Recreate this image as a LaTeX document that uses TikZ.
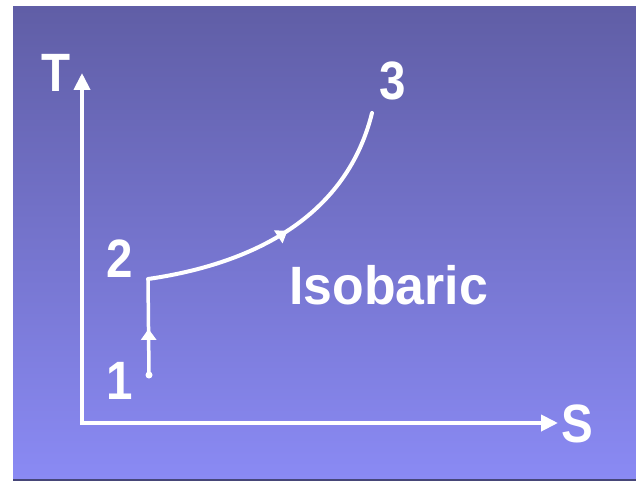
\documentclass[tikz,border=0pt]{standalone}
\usepackage{fontspec}
\setmainfont{Liberation Sans}
\usetikzlibrary{arrows.meta,decorations.markings}
\definecolor{bgtop}{RGB}{96,94,166}
\definecolor{bgmid}{RGB}{110,112,210}
\definecolor{bgbot}{RGB}{138,138,244}
\definecolor{edgeline}{RGB}{70,70,120}
\begin{document}
\begin{tikzpicture}[x=1pt,y=-1pt,
  lbl/.style={text=white,font=\fontsize{54}{60}\selectfont\bfseries,inner sep=0pt,xscale=0.88},
  midarrow/.style={decoration={markings,mark=at position #1 with {\arrow{Triangle[length=11pt,width=15pt]}}},postaction=decorate},
  proc/.style={white,line width=3.5pt}]
  \useasboundingbox (0,0) rectangle (636,484);
  \fill[white] (0,0) rectangle (636,484);
  \shade[top color=bgtop,middle color=bgmid,bottom color=bgbot] (13,7) rectangle (636,480);
  \draw[edgeline,line width=1.2pt] (13,480) -- (636,480);
  % axes
  \coordinate (Ttip) at (82,73);
  \coordinate (O) at (82,423);
  \coordinate (Stip) at (558,423);
  \draw[white,line width=4pt,miter limit=10,
        {Triangle[length=17pt,width=16pt]}-{Triangle[length=17pt,width=16pt]}]
        (Ttip) -- (O) -- (Stip);
  \node[lbl] (T) at (56.5,73) {T};
  \node[lbl] (S) at (577.5,424) {S};
  % process points
  \coordinate (p1) at (149,375);
  \coordinate (p2) at (148,279);
  \coordinate (p3) at (372,113);
  \fill[white] (p1) circle (3.5pt);
  \draw[proc,line cap=square,midarrow=0.48] (p1) -- (p2);
  \draw[proc,line width=4pt,line cap=round,midarrow=0.5] (p2) .. controls (245,265) and (345,222) .. (p3);
  \node[lbl] (n1) at (120,381) {1};
  \node[lbl] (n2) at (119.5,259) {2};
  \node[lbl] (n3) at (393,81) {3};
  \node[lbl,xscale=1.09] (iso) at (388.5,285) {Isobaric};
\end{tikzpicture}
\end{document}
